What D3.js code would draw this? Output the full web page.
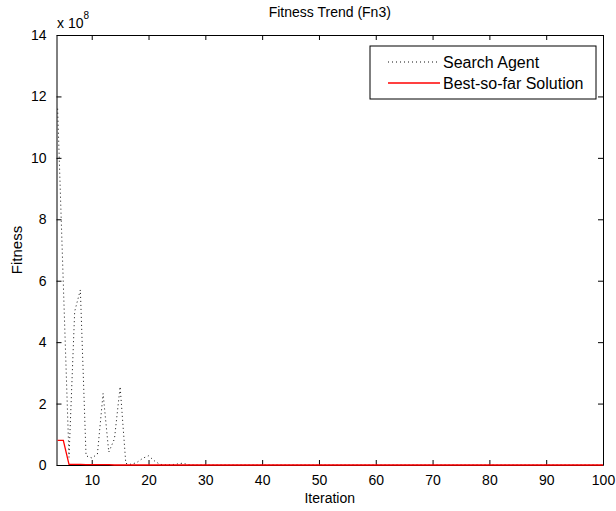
<!DOCTYPE html>
<html>
<head>
<meta charset="utf-8">
<script src="https://cdn.jsdelivr.net/npm/d3@7"></script>
<style>
  body { margin: 0; background: #fff; }
  svg text { font-family: "Liberation Sans", Arial, sans-serif; fill: #000; }
</style>
</head>
<body>
<div id="chart"></div>
<script>
// values in units of 1e8, iteration 4..100
const firstIter = 4;
const searchAgent = [
  11.6, 5.9, 0.25, 5.0, 5.7, 0.3, 0.23, 0.35, 2.33, 0.42,
  0.85, 2.55, 0.05, 0.02, 0.09, 0.22, 0.30, 0.14, 0.02, 0.01,
  0.01, 0.03, 0.06, 0.01, 0, 0, 0, 0, 0, 0,
  0, 0, 0, 0, 0, 0, 0, 0, 0, 0,
  0, 0, 0, 0, 0, 0, 0, 0, 0, 0,
  0, 0, 0, 0, 0, 0, 0, 0, 0, 0,
  0, 0, 0, 0, 0, 0, 0, 0, 0, 0,
  0, 0, 0, 0, 0, 0, 0, 0, 0, 0,
  0, 0, 0, 0, 0, 0, 0, 0, 0, 0,
  0, 0, 0, 0, 0, 0, 0
];
const bestSoFar = [
  0.8, 0.8, 0.02, 0.02, 0.02, 0.01, 0.01, 0.01, 0.01, 0.01,
  0, 0, 0, 0, 0, 0, 0, 0, 0, 0,
  0, 0, 0, 0, 0, 0, 0, 0, 0, 0,
  0, 0, 0, 0, 0, 0, 0, 0, 0, 0,
  0, 0, 0, 0, 0, 0, 0, 0, 0, 0,
  0, 0, 0, 0, 0, 0, 0, 0, 0, 0,
  0, 0, 0, 0, 0, 0, 0, 0, 0, 0,
  0, 0, 0, 0, 0, 0, 0, 0, 0, 0,
  0, 0, 0, 0, 0, 0, 0, 0, 0, 0,
  0, 0, 0, 0, 0, 0, 0
];
const xTicks = [10, 20, 30, 40, 50, 60, 70, 80, 90, 100];
const yTicks = [0, 2, 4, 6, 8, 10, 12, 14];
const seriesNames = ["Search Agent", "Best-so-far Solution"];

const width = 616, height = 511;
const mLeft = 56.5, mRight = 603, mTop = 35, mBottom = 465;

const svg = d3.select("#chart").append("svg")
    .attr("width", width)
    .attr("height", height);

svg.append("rect").attr("width", width).attr("height", height).attr("fill", "#fff");

const x = d3.scaleLinear().domain([3.8, 100]).range([mLeft, mRight]);
const y = d3.scaleLinear().domain([0, 14]).range([mBottom, mTop]);

// axes with inward ticks on all four sides
const axisStyle = g => {
  g.selectAll("path").attr("stroke", "#000");
  g.selectAll("line").attr("stroke", "#000");
  g.selectAll("text").attr("font-size", "14px").attr("fill", "#000");
};

svg.append("g")
    .attr("transform", "translate(0," + mBottom + ")")
    .call(d3.axisBottom(x).tickValues(xTicks).tickSize(-5).tickSizeOuter(0).tickPadding(10))
    .call(axisStyle);

svg.append("g")
    .attr("transform", "translate(0," + mTop + ")")
    .call(d3.axisTop(x).tickValues(xTicks).tickSize(-5).tickSizeOuter(0).tickFormat(""))
    .call(axisStyle);

svg.append("g")
    .attr("transform", "translate(" + mLeft + ",0)")
    .call(d3.axisLeft(y).tickValues(yTicks).tickSize(-5).tickSizeOuter(0).tickPadding(10))
    .call(axisStyle);

svg.append("g")
    .attr("transform", "translate(" + mRight + ",0)")
    .call(d3.axisRight(y).tickValues(yTicks).tickSize(-5).tickSizeOuter(0).tickFormat(""))
    .call(axisStyle);

const plot = svg.append("g");

const line = d3.line()
    .x((d, i) => x(firstIter + i))
    .y(d => y(d));

plot.append("path")
    .datum(searchAgent)
    .attr("fill", "none")
    .attr("stroke", "#111")
    .attr("stroke-width", 1)
    .attr("stroke-dasharray", "1,3")
    .attr("d", line);

plot.append("path")
    .datum(bestSoFar)
    .attr("fill", "none")
    .attr("stroke", "#ff0000")
    .attr("stroke-width", 1.3)
    .attr("d", line);

// title, axis labels, exponent
svg.append("text")
    .attr("x", (mLeft + mRight) / 2).attr("y", 17)
    .attr("text-anchor", "middle").attr("font-size", "14px")
    .text("Fitness Trend (Fn3)");

svg.append("text")
    .attr("x", (mLeft + mRight) / 2).attr("y", 503)
    .attr("text-anchor", "middle").attr("font-size", "14px")
    .text("Iteration");

svg.append("text")
    .attr("transform", "translate(22," + (mTop + mBottom) / 2 + ") rotate(-90)")
    .attr("text-anchor", "middle").attr("font-size", "15px")
    .text("Fitness");

const expo = svg.append("text").attr("x", 57).attr("y", 28).attr("font-size", "14px");
expo.append("tspan").text("x 10");
expo.append("tspan").attr("dy", -9).attr("font-size", "10px").text("8");

// legend
const legend = svg.append("g").attr("transform", "translate(370,46)");
legend.append("rect")
    .attr("width", 226).attr("height", 53)
    .attr("fill", "#fff").attr("stroke", "#000");

const rows = legend.selectAll("g.row")
    .data(seriesNames)
    .enter().append("g")
    .attr("class", "row")
    .attr("transform", (d, i) => "translate(0," + (16 + i * 21) + ")");

rows.append("line")
    .attr("x1", 18).attr("x2", 70)
    .attr("stroke", (d, i) => i === 0 ? "#111" : "#ff0000")
    .attr("stroke-width", (d, i) => i === 0 ? 1 : 1.3)
    .attr("stroke-dasharray", (d, i) => i === 0 ? "1,3" : null);

rows.append("text")
    .attr("x", 73).attr("dy", "0.35em")
    .attr("font-size", "16px")
    .text(d => d);
</script>
</body>
</html>
